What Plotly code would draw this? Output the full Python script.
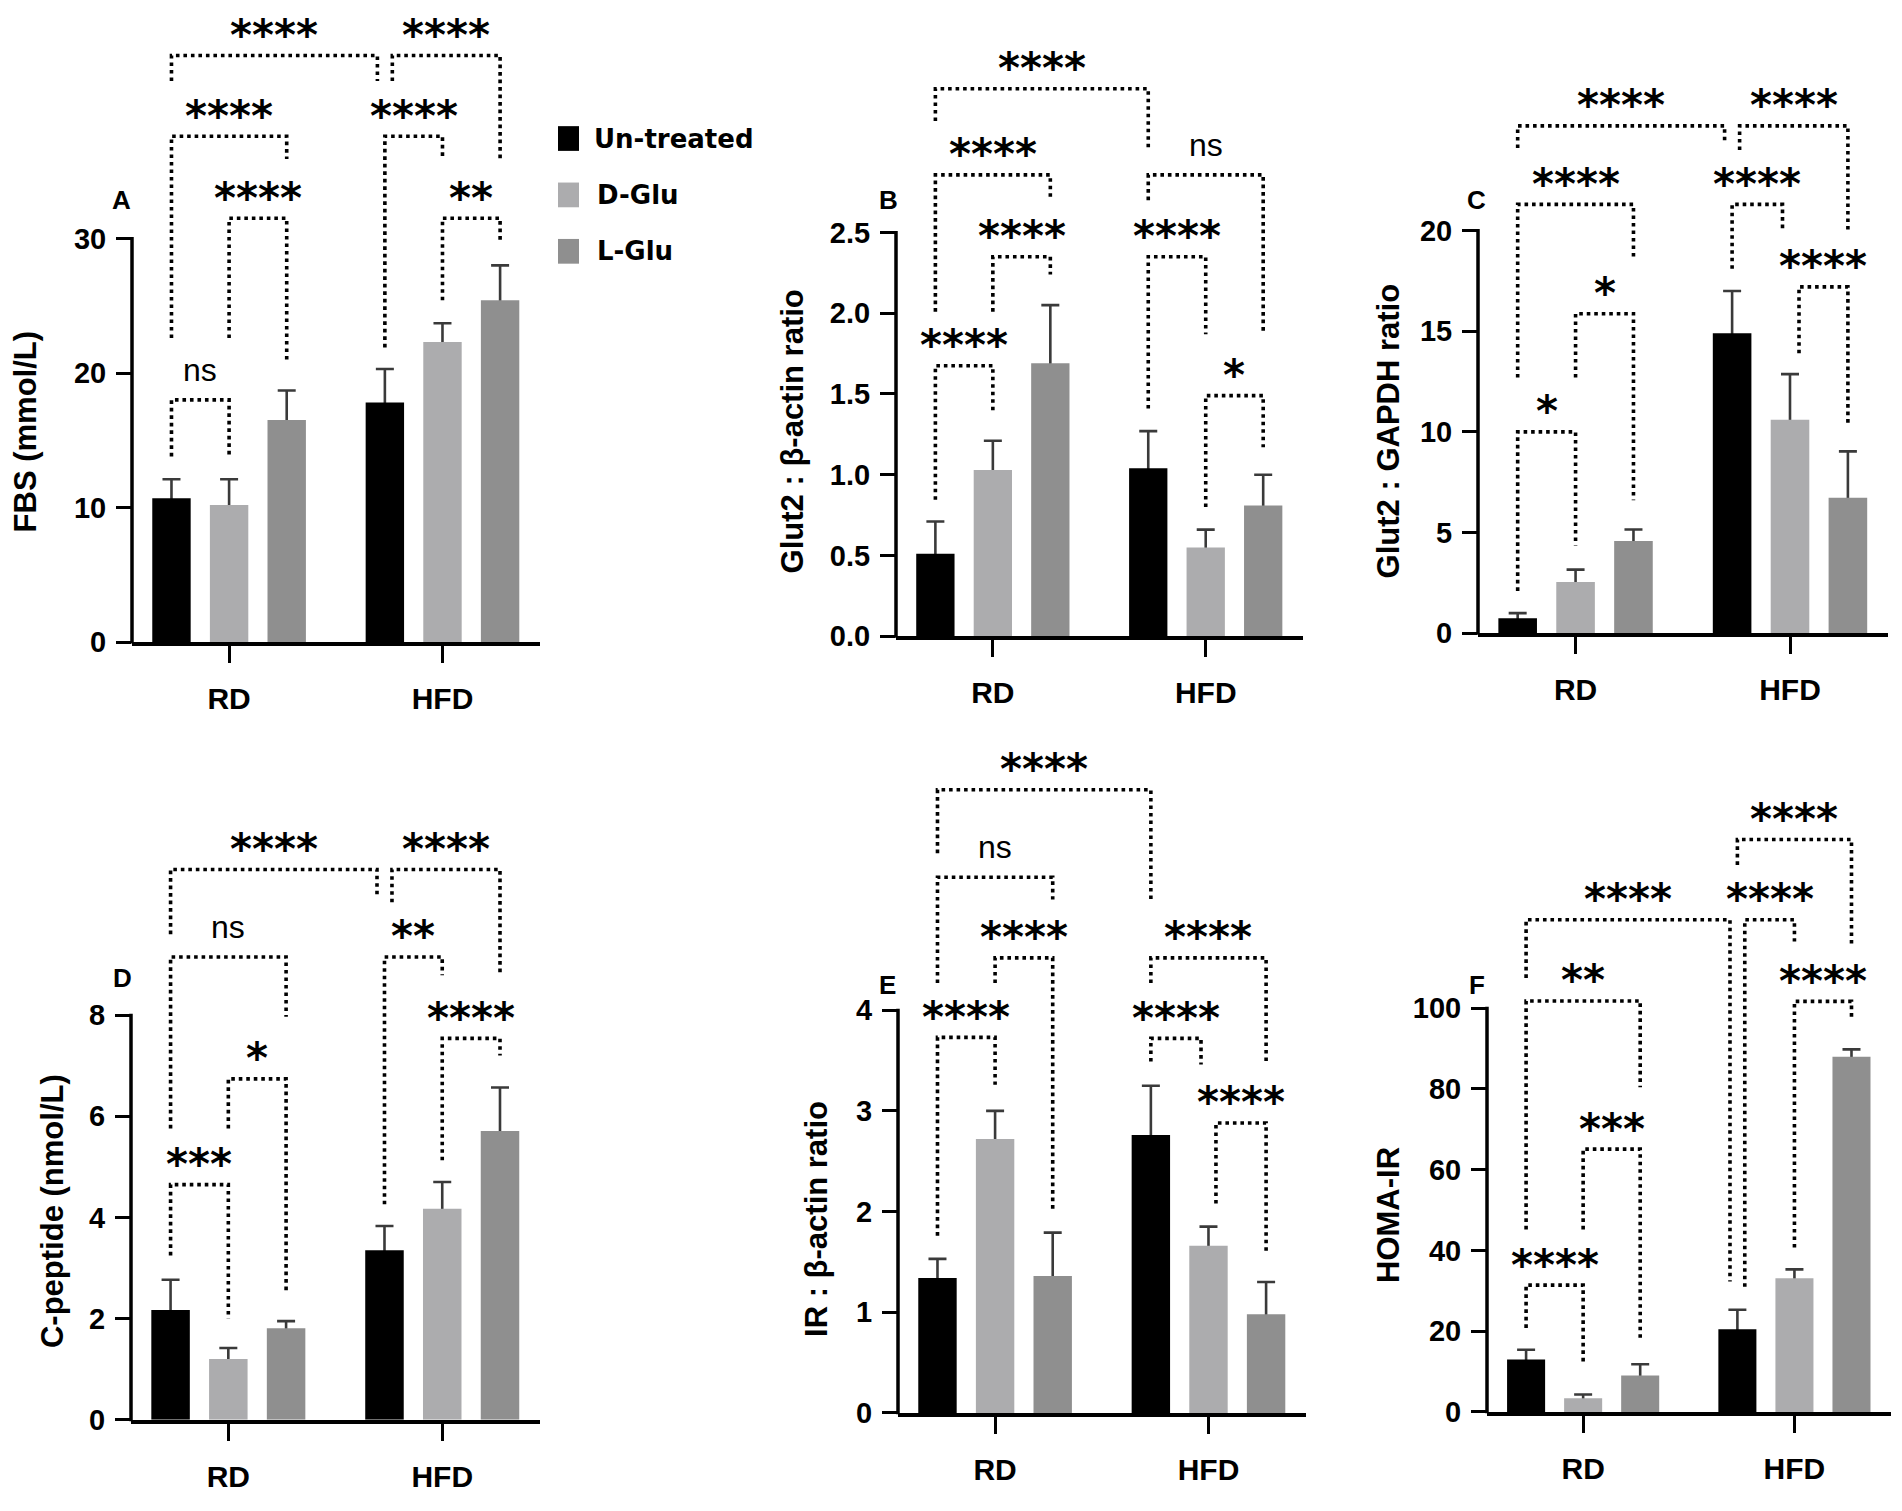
import plotly.graph_objects as go

W, H = 1902, 1511

# ---------------- data ----------------
groups = ["RD", "HFD"]
series = ["Un-treated", "D-Glu", "L-Glu"]
colors = ["#000000", "#acacae", "#8f8f8f"]

# order of values: RD (Un-treated, D-Glu, L-Glu), HFD (Un-treated, D-Glu, L-Glu)
fbs_mean = [10.7, 10.2, 16.5, 17.8, 22.3, 25.4]
fbs_err = [1.4, 1.9, 2.2, 2.5, 1.4, 2.6]

glut2_actin_mean = [0.51, 1.03, 1.69, 1.04, 0.55, 0.81]
glut2_actin_err = [0.20, 0.18, 0.36, 0.23, 0.11, 0.19]

glut2_gapdh_mean = [0.74, 2.55, 4.58, 14.9, 10.6, 6.73]
glut2_gapdh_err = [0.26, 0.61, 0.57, 2.1, 2.27, 2.3]

cpep_mean = [2.17, 1.20, 1.81, 3.35, 4.17, 5.71]
cpep_err = [0.60, 0.22, 0.14, 0.48, 0.53, 0.86]

ir_actin_mean = [1.34, 2.72, 1.36, 2.76, 1.66, 0.98]
ir_actin_err = [0.19, 0.28, 0.43, 0.49, 0.19, 0.32]

homa_mean = [13.0, 3.4, 9.0, 20.5, 33.1, 88.0]
homa_err = [2.4, 0.9, 2.8, 4.8, 2.2, 1.8]

# significance brackets: (bar_i, bar_j, top, left_end, right_end, label, shift_left, shift_right)
fbs_sig = [
    (0, 1, 18.0, 13.8, 13.8, "ns", 0, 0),
    (1, 2, 31.5, 22.6, 20.7, "****", 0, 0),
    (0, 2, 37.6, 22.6, 35.9, "****", 0, 0),
    (0, 3, 43.6, 41.7, 41.7, "****", 0, -1),
    (3, 4, 37.6, 21.9, 36.1, "****", 0, 0),
    (4, 5, 31.5, 25.4, 29.8, "**", 0, 0),
    (3, 5, 43.6, 41.7, 35.9, "****", 1, 0),
]
glut2_actin_sig = [
    (0, 1, 1.675, 0.845, 1.39, "****", 0, 0),
    (1, 2, 2.35, 2.01, 2.24, "****", 0, 0),
    (0, 2, 2.857, 2.01, 2.72, "****", 0, 0),
    (0, 3, 3.39, 3.19, 3.01, "****", 0, 0),
    (3, 4, 2.35, 1.41, 1.87, "****", 0, 0),
    (4, 5, 1.49, 0.80, 1.17, "*", 0, 0),
    (3, 5, 2.857, 2.70, 1.89, "ns", 0, 0),
]
glut2_gapdh_sig = [
    (0, 1, 10.0, 2.1, 4.36, "*", 0, 0),
    (1, 2, 15.87, 12.7, 6.6, "*", 0, 0),
    (0, 2, 21.3, 12.7, 18.7, "****", 0, 0),
    (0, 3, 25.2, 24.1, 24.4, "****", 0, -1),
    (3, 4, 21.3, 18.1, 20.0, "****", 0, -1),
    (4, 5, 17.2, 13.9, 10.3, "****", 1.2, 0),
    (3, 5, 25.2, 24.0, 20.0, "****", 1, 0),
]
cpep_sig = [
    (0, 1, 4.65, 3.25, 2.0, "***", 0, 0),
    (1, 2, 6.74, 5.76, 2.53, "*", 0, 0),
    (0, 2, 9.15, 5.76, 7.97, "ns", 0, 0),
    (0, 3, 10.88, 9.6, 10.33, "****", 0, -1),
    (3, 4, 9.15, 4.26, 8.79, "**", 0, 0),
    (4, 5, 7.54, 5.13, 7.2, "****", 0, 0),
    (3, 5, 10.88, 10.23, 8.79, "****", 1, 0),
]
ir_actin_sig = [
    (0, 1, 3.73, 1.76, 3.26, "****", 0, 0),
    (1, 2, 4.52, 4.27, 2.0, "****", 0, 0),
    (0, 2, 5.32, 4.27, 5.1, "ns", 0, 0),
    (0, 3, 6.19, 5.56, 5.1, "****", 0, 0),
    (3, 4, 3.72, 3.49, 3.46, "****", 0, -1),
    (4, 5, 2.88, 2.08, 1.57, "****", 1, 0),
    (3, 5, 4.52, 4.27, 3.49, "****", 0, 0),
]
homa_sig = [
    (0, 1, 31.4, 20.8, 11.8, "****", 0, 0),
    (1, 2, 65.1, 45.2, 17.8, "***", 0, 0),
    (0, 2, 101.8, 45.2, 80.4, "**", 0, 0),
    (0, 3, 121.9, 107.5, 32.3, "****", 0, -1),
    (3, 4, 121.9, 31.0, 116.5, "****", 1, 0),
    (4, 5, 101.7, 40.7, 97.2, "****", 0, 0),
    (3, 5, 141.8, 135.5, 115.6, "****", 0, 0),
]

# ---------------- layout of panels (pixels) ----------------
panels = [
    dict(letter="A", title="FBS (mmol/L)", mean=fbs_mean, err=fbs_err, sig=fbs_sig,
         xl=132, xr=540, y0=649, ytop=241, ymax=30, step=10, fmt="{:.0f}", dtop=0,
         tpos=(25, 436), lpos=(121, 202)),
    dict(letter="B", title="Glut2 : β-actin ratio", mean=glut2_actin_mean, err=glut2_actin_err,
         sig=glut2_actin_sig, xl=896, xr=1303, y0=643, ytop=235, ymax=2.5, step=0.5,
         fmt="{:.1f}", dtop=0, tpos=(792, 436), lpos=(888, 202)),
    dict(letter="C", title="Glut2 : GAPDH ratio", mean=glut2_gapdh_mean, err=glut2_gapdh_err,
         sig=glut2_gapdh_sig, xl=1478, xr=1888, y0=640, ytop=233, ymax=20, step=5,
         fmt="{:.0f}", dtop=0, tpos=(1388, 436), lpos=(1476, 202)),
    dict(letter="D", title="C-peptide (nmol/L)", mean=cpep_mean, err=cpep_err, sig=cpep_sig,
         xl=131, xr=540, y0=1435, ytop=1026, ymax=8, step=2, fmt="{:.0f}", dtop=745,
         tpos=(52, 1224), lpos=(122, 988)),
    dict(letter="E", title="IR : β-actin ratio", mean=ir_actin_mean, err=ir_actin_err,
         sig=ir_actin_sig, xl=898, xr=1306, y0=1428, ytop=1021, ymax=4, step=1,
         fmt="{:.0f}", dtop=745, tpos=(817, 1232), lpos=(887, 996)),
    dict(letter="F", title="HOMA-IR", mean=homa_mean, err=homa_err, sig=homa_sig,
         xl=1487, xr=1891, y0=1427, ytop=1019, ymax=100, step=20, fmt="{:.0f}", dtop=745,
         tpos=(1389, 1228), lpos=(1477, 996)),
]

XR = [-0.455, 1.457]
OFF = 0.27      # offset of bars inside a group
BW = 0.18       # bar width
SHIFT = 0.035   # bracket shift at shared bars

BOLD = "Liberation Sans"
STAR_FONT = dict(family="DejaVu Sans", size=42, color="black", weight="bold")
NS_FONT = dict(family="Liberation Sans", size=32, color="black")


def bar_x(k):
    return k // 3 + (k % 3 - 1) * OFF


fig = go.Figure()
shapes = []
annotations = []

for n, p in enumerate(panels, start=1):
    xa_name = "x" if n == 1 else f"x{n}"
    ya_name = "y" if n == 1 else f"y{n}"
    pxu = (p["y0"] - p["ytop"]) / p["ymax"]
    yrange_top = (p["y0"] - p["dtop"]) / pxu

    # invisible bars carrying the error bars (lower half hidden by real bars)
    for s in range(3):
        xs = [bar_x(g * 3 + s) for g in range(2)]
        ys = [p["mean"][g * 3 + s] for g in range(2)]
        es = [p["err"][g * 3 + s] for g in range(2)]
        fig.add_trace(go.Bar(
            x=xs, y=ys, width=BW, marker=dict(color="rgba(0,0,0,0)", line=dict(width=0)),
            error_y=dict(type="data", array=es, symmetric=True, color="#3a3a3a",
                         thickness=2.6, width=9),
            xaxis=xa_name, yaxis=ya_name, showlegend=False, hoverinfo="skip"))
    for s in range(3):
        xs = [bar_x(g * 3 + s) for g in range(2)]
        ys = [p["mean"][g * 3 + s] for g in range(2)]
        fig.add_trace(go.Bar(
            x=xs, y=ys, width=BW, name=series[s],
            marker=dict(color=colors[s], line=dict(width=0)),
            xaxis=xa_name, yaxis=ya_name, showlegend=False))

    # significance brackets
    bx, by = [], []
    for (i, j, top, yl, yr, lab, sl, sr) in p["sig"]:
        xa = bar_x(i) + sl * SHIFT
        xb = bar_x(j) + sr * SHIFT
        bx += [xa, xa, xb, xb, None]
        by += [yl, top, top, yr, None]
        star = lab != "ns"
        annotations.append(dict(
            x=(xa + xb) / 2, y=top, xref=xa_name, yref=ya_name, text=lab,
            showarrow=False, xanchor="center", yanchor="middle",
            yshift=20 if star else 30, font=STAR_FONT if star else NS_FONT))
    fig.add_trace(go.Scatter(
        x=bx, y=by, mode="lines", xaxis=xa_name, yaxis=ya_name, showlegend=False,
        hoverinfo="skip", line=dict(color="black", width=3.6, dash="3.6px,3.9px")))

    ticks = []
    v = 0.0
    while v <= p["ymax"] + 1e-9:
        ticks.append(round(v, 6))
        v += p["step"]

    fig.update_layout(**{
        ("xaxis" if n == 1 else f"xaxis{n}"): dict(
            domain=[p["xl"] / W, p["xr"] / W], range=XR, anchor=ya_name,
            tickvals=[0, 1], ticktext=groups, ticks="outside", ticklen=17, tickwidth=3,
            tickcolor="black", showline=True, linewidth=3.5, linecolor="black",
            showgrid=False, zeroline=False, ticklabelstandoff=10,
            tickfont=dict(family=BOLD, size=30, color="black", weight="bold")),
        ("yaxis" if n == 1 else f"yaxis{n}"): dict(
            domain=[1 - p["y0"] / H, 1 - p["dtop"] / H], range=[0, yrange_top],
            anchor=xa_name, tickvals=ticks, ticktext=[p["fmt"].format(t) for t in ticks],
            ticks="outside", ticklen=15, tickwidth=3, tickcolor="black",
            showline=False, showgrid=False, zeroline=False, ticklabelstandoff=4,
            tickfont=dict(family=BOLD, size=29, color="black", weight="bold")),
    })

    # y axis line only up to the last tick
    shapes.append(dict(type="line", xref="paper", yref="paper",
                       x0=p["xl"] / W, x1=p["xl"] / W,
                       y0=1 - (p["y0"] + 1.5) / H, y1=1 - (p["ytop"] - 1.5) / H,
                       line=dict(color="black", width=3.5)))
    # axis title
    annotations.append(dict(
        x=p["tpos"][0] / W, y=1 - p["tpos"][1] / H, xref="paper", yref="paper",
        text=p["title"], textangle=-90, showarrow=False, xanchor="center", yanchor="middle",
        font=dict(family=BOLD, size=31, color="black", weight="bold")))
    # panel letter
    annotations.append(dict(
        x=p["lpos"][0] / W, y=1 - p["lpos"][1] / H, xref="paper", yref="paper",
        text=p["letter"], showarrow=False, xanchor="center", yanchor="middle",
        font=dict(family=BOLD, size=26, color="black", weight="bold")))

# legend (drawn manually)
leg_rows = [140, 197, 254]
for s in range(3):
    yc = leg_rows[s]
    shapes.append(dict(type="rect", xref="paper", yref="paper",
                       x0=558 / W, x1=579 / W, y0=1 - (yc + 12.5) / H, y1=1 - (yc - 12.5) / H,
                       fillcolor=colors[s], line=dict(width=0)))
    annotations.append(dict(
        x=(592 if s == 0 else 595) / W, y=1 - yc / H, xref="paper", yref="paper",
        text=series[s], showarrow=False, xanchor="left", yanchor="middle",
        font=dict(family="DejaVu Sans", size=26, color="black", weight="bold")))

fig.update_layout(
    width=W, height=H, autosize=False,
    margin=dict(l=0, r=0, t=0, b=0),
    paper_bgcolor="white", plot_bgcolor="white",
    barmode="overlay", showlegend=False,
    shapes=shapes, annotations=annotations,
)

fig.write_html("out.html", config={"displayModeBar": False},
               post_script="document.body.style.margin='0';document.body.style.overflow='hidden';")
